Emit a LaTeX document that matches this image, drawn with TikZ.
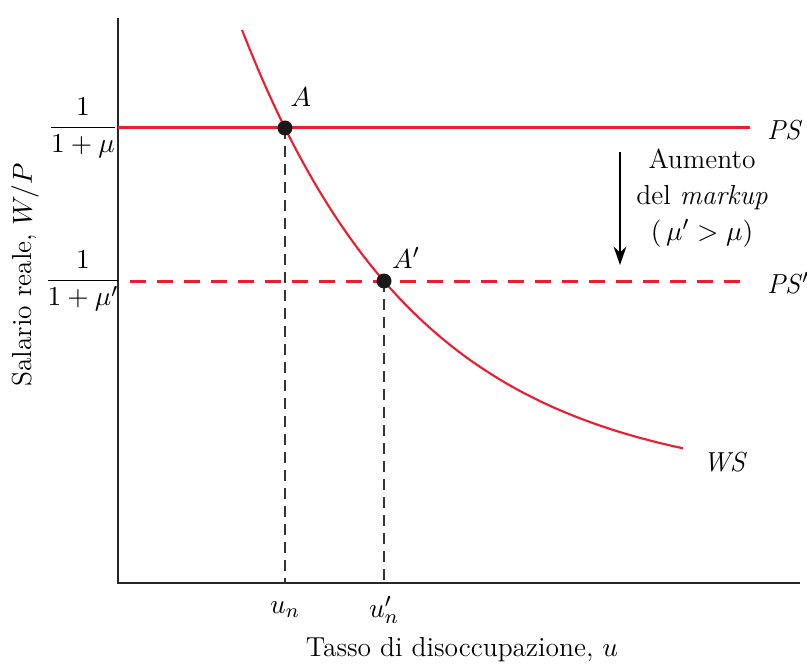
\documentclass[tikz,border=0pt]{standalone}
\usepackage{amsmath, amssymb}
\usetikzlibrary{positioning,arrows.meta}
\definecolor{curvered}{RGB}{237,28,46}
\tikzset{
  axisline/.style={line width=0.6pt, black!85},
  psline/.style={line width=1.2pt, curvered},
  wsline/.style={line width=0.85pt, curvered},
  guideline/.style={line width=0.5pt, black!80, dash pattern=on 4.4pt off 2.8pt},
  eqdot/.style={circle, fill=black!90, inner sep=0pt, minimum size=6pt},
  curvelabel/.style={font=\fontsize{11}{13}\selectfont, inner sep=1pt},
  ticklabel/.style={font=\fontsize{11}{13}\selectfont, inner sep=1pt},
  shiftarrow/.style={-{Stealth[length=2.6mm, width=1.8mm]}, line width=0.5pt}
}

\begin{document}
\begin{tikzpicture}[x=0.4pt, y=-0.4pt]
  \useasboundingbox (0,0) rectangle (807,666);
  % axes
  \coordinate (origin) at (118,583);
  \coordinate (ytop) at (118,18);
  \coordinate (xend) at (800,583);
  \draw[axisline] (ytop) -- (origin) -- (xend);
  % equilibrium points and their feet on the axis
  \coordinate (eqA) at (285,128);
  \coordinate (eqA2) at (384,281);
  \coordinate (un) at (285,583);
  \coordinate (un2) at (384,583);
  \draw[guideline] (eqA) -- (un);
  \draw[guideline] (eqA2) -- (un2);
  % PS and PS'
  \coordinate (ps-l) at (118,128);
  \coordinate (ps-r) at (750,128);
  \coordinate (ps2-l) at (130,281);
  \coordinate (ps2-r) at (750,281);
  \draw[psline] (ps-l) -- (ps-r);
  \draw[psline, dash pattern=on 6.4pt off 4.4pt] (ps2-l) -- (ps2-r);
  % WS
  \draw[wsline, domain=242:683, samples=80, smooth] plot (\x, {486.4-448.9*exp(-0.00563*(\x-245))});
  \node[eqdot] (A) at (eqA) {};
  \node[eqdot] (A2) at (eqA2) {};
  % labels
  \node[curvelabel] (A-lab) at (301,97) {$A$};
  \node[curvelabel] (A2-lab) at (406,258) {$A'$};
  \node[curvelabel, anchor=west] (ps-lab) at (764,130) {\textit{PS}};
  \node[curvelabel, anchor=west] (ps2-lab) at (764,283) {\textit{PS}$'$};
  \node[curvelabel, anchor=west] (ws-lab) at (700,462) {\textit{WS}};
  \node[ticklabel] (frac1) at (83,128) {$\dfrac{1}{1+\mu}$};
  \node[ticklabel] (frac2) at (83,281) {$\dfrac{1}{1+\mu'}$};
  \node[ticklabel] (un-lab) at (285,610) {$u_n$};
  \node[ticklabel] (un2-lab) at (384,610) {$u'_n$};
  \node[ticklabel] (xlab) at (462,650) {Tasso di disoccupazione, $u$};
  \node[ticklabel, rotate=90] (ylab) at (25,275) {Salario reale, $W/P$};
  % markup shift
  \coordinate (arr-top) at (620,152);
  \coordinate (arr-bot) at (620,265);
  \draw[shiftarrow] (arr-top) -- (arr-bot);
  \node[ticklabel, font=\fontsize{11}{14.4}\selectfont, align=center] (shift-lab) at (702,198)
    {Aumento\\del \textit{markup}\\$(\,\mu'>\mu)$};
\end{tikzpicture}
\end{document}
